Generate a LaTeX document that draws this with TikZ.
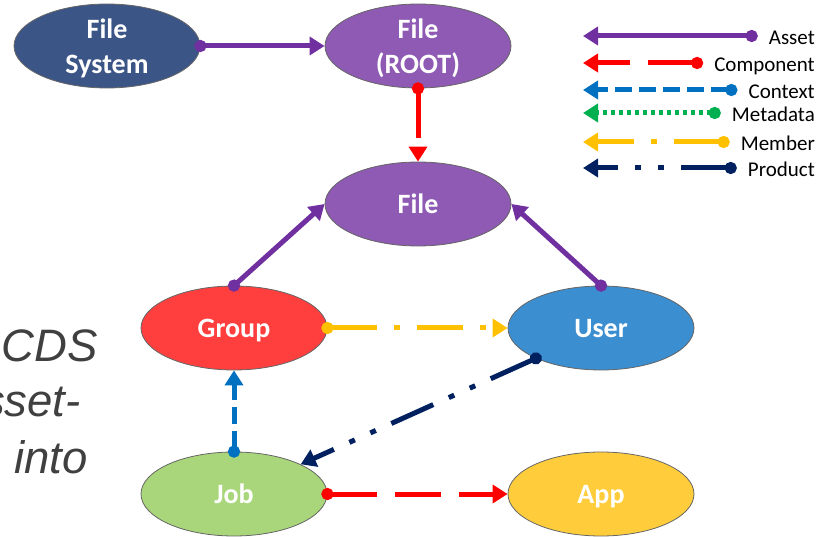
\documentclass[tikz,border=0pt]{standalone}
\usepackage{fontspec}
\setmainfont{Carlito}
\newfontfamily\sidefont{Liberation Sans}
\usetikzlibrary{arrows.meta, shapes.geometric}
\definecolor{fsfill}{RGB}{60,85,135}
\definecolor{filefill}{RGB}{142,90,180}
\definecolor{grpfill}{RGB}{255,62,62}
\definecolor{usrfill}{RGB}{59,142,208}
\definecolor{jobfill}{RGB}{169,214,122}
\definecolor{appfill}{RGB}{255,205,60}
\definecolor{assetc}{RGB}{112,48,160}
\definecolor{compc}{RGB}{255,0,0}
\definecolor{ctxc}{RGB}{0,112,192}
\definecolor{metac}{RGB}{0,176,80}
\definecolor{membc}{RGB}{255,192,0}
\definecolor{prodc}{RGB}{0,32,96}
\definecolor{sidegray}{RGB}{64,64,64}
\tikzset{
  ent/.style={ellipse, draw=black!60, line width=0.8pt, minimum width=186pt,
    minimum height=84pt, inner sep=0pt, text=white, align=center, text depth=0pt,
    font=\fontsize{28}{35}\selectfont\bfseries},
  rel/.style={line width=5pt, shorten <=-6pt,
    {Circle[length=12pt,width=12pt]}-{Triangle[length=15pt,width=18pt]}},
  asset/.style={rel, draw=assetc},
  comp/.style={rel, draw=compc, dash pattern=on 46pt off 18pt},
  ctx/.style={rel, draw=ctxc, dash pattern=on 17pt off 7pt},
  meta/.style={rel, draw=metac, dash pattern=on 4pt off 4pt},
  memb/.style={rel, draw=membc, dash pattern=on 46pt off 17pt on 6pt off 17pt},
  prod/.style={rel, draw=prodc, dash pattern=on 46pt off 17pt on 6pt off 17pt on 6pt off 17pt},
  key/.style={anchor=base east, inner sep=0pt, font=\fontsize{21}{24}\selectfont},
  side/.style={anchor=base east, inner sep=0pt, text=sidegray,
    font=\sidefont\itshape\fontsize{45.5}{55}\selectfont}
}
\begin{document}
\begin{tikzpicture}[x=1pt, y=-1pt]
\useasboundingbox (0,0) rectangle (817,537);
\clip (0,0) rectangle (817,537);
% side text, cut at the left edge
\node[side] (s1) at (98,362) {CDS};
\node[side] (s2) at (81,417) {asset-};
\node[side] (s3) at (88,473) {into};
% entities
\node[ent, fill=fsfill] (fs) at (107,46) {File\\System};
\node[ent, fill=filefill] (root) at (418,46) {File\\(ROOT)};
\node[ent, fill=filefill] (file) at (418,204) {File};
\node[ent, fill=grpfill] (grp) at (234,328) {Group};
\node[ent, fill=usrfill] (usr) at (601,328) {User};
\node[ent, fill=jobfill] (job) at (234,494) {Job};
\node[ent, fill=appfill] (app) at (601,494) {App};
% relations
\draw[asset] (fs.east) -- (root.west);
\draw[comp] (root.south) -- (file.north);
\draw[asset] (grp.north) -- (file.west);
\draw[asset] (usr.north) -- (file.east);
\draw[memb] (grp.east) -- (usr.west);
\draw[prod] (usr.205) -- (job.24);
\draw[ctx] (job.north) -- (grp.south);
\draw[comp] (job.east) -- (app.west);
% legend
\foreach \kind/\lbl/\yy in {asset/Asset/36, comp/Component/63, ctx/Context/90,
    meta/Metadata/113, memb/Member/142, prod/Product/168} {
  \node[key] (k\kind) at (815,\yy+9) {\lbl};
  \coordinate (t\kind) at (583,\yy);
  \draw[\kind] ([shift={(-17pt,9pt)}]k\kind.base west) -- (t\kind);
}
\end{tikzpicture}
\end{document}
